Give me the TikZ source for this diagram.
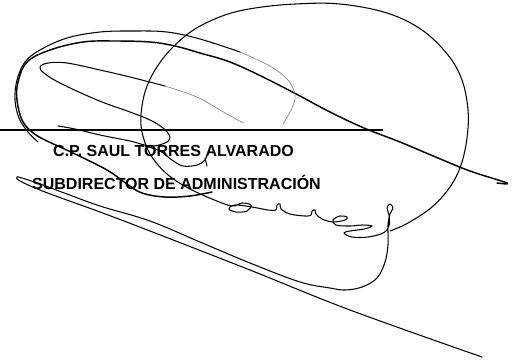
\documentclass[tikz,border=0pt]{standalone}
\usepackage{fontspec}
\setmainfont{Liberation Sans}
\begin{document}
\begin{tikzpicture}[x=1pt,y=-1pt,
  sig/.style={line width=1.45pt, line cap=round, line join=round},
  thin sig/.style={line width=1.05pt, line cap=round, line join=round},
  faint/.style={line width=0.55pt, black!55, line cap=round},
  label/.style={inner sep=0pt, anchor=base west, font=\fontsize{16}{18}\selectfont\bfseries}]
\useasboundingbox (0,0) rectangle (513,360);
% signature line
\coordinate (l0) at (0,130);
\coordinate (l1) at (383,130);
\draw[line width=1.2pt] (l0) -- (l1);
% texts
\node[label] (name) at (53,156) {C.P. SAUL TORRES ALVARADO};
\node[label] (role) at (32,189) {SUBDIRECTOR DE ADMINISTRACIÓN};
% big ellipse + cursive + f loop + bottom swoop + long diagonal
\draw[thin sig] plot[smooth, tension=0.6] coordinates {
 (390,231) (408,223) (432,207) (450,187) (461,165) (467,138) (468,110) (462,80)
 (448,55) (422,30) (387,13) (340,4) (295,4) (255,8) (225,15) (195,29) (172,48)
 (155,70) (145,92) (141,115) (142,132) (148,150) (158,165) (172,178) (190,189)
 (212,199) (232,206) (242,203) (251,205) (247,211) (236,212) (229,209) (235,205)
 (252,207) (268,210) (276,210) (277,205) (280,204) (281,209) (290,214) (305,216)
 (311,215) (312,211) (315,210) (316,214) (322,219) (333,222) (345,220) (347,217)
 (340,216) (333,220) (336,225) (350,226) (362,225) (372,226) (364,229) (350,231)
 (344,233) (352,237) (368,237) (383,233) (389,226) (389,215) (387,208) (390,204)
 (393,208) (390,214) (388,225) (388,245) (385,262) (377,278) (362,287) (345,290)
 (330,288) (300,282) (250,263) (200,242) (150,221) (100,206) (67,194) (40,184)
 (22,178) (17,177) (20,181) (45,192) (100,212) (150,231) (250,270) (350,310) (482,357)};
% long thick diagonal around the outer left loop to the swash under the text
\draw[sig] plot[smooth, tension=0.6] coordinates {
 (497,183) (507,183) (470,171) (438,158) (400,142) (364,128) (330,112) (300,96)
 (263,77) (230,62) (200,53) (175,46) (150,42) (115,41) (83,42) (50,50) (27,62)
 (18,82) (17,100) (22,120) (32,132) (45,140) (73,153) (107,170) (127,184)
 (142,193) (165,197) (190,196) (212,192)};
% upper outer arc
\draw[thin sig] plot[smooth, tension=0.6] coordinates {
 (38,142) (28,132) (19,118) (15,100) (17,80) (25,62) (40,50) (67,38) (100,32)
 (133,31) (167,32) (200,39) (240,52)};
\draw[faint] plot[smooth, tension=0.6] coordinates {
 (240,52) (270,66) (288,80) (295,95) (292,108) (283,124)};
% inner pointed loop with hook
\draw[faint] plot[smooth, tension=0.6] coordinates {
 (243,123) (220,110) (197,97) (165,86)};
\draw[thin sig] plot[smooth, tension=0.6] coordinates {
 (165,86) (130,77) (100,70) (67,63) (48,63) (40,67) (44,73) (60,83) (97,100)
 (130,112) (150,120) (163,128) (170,137) (165,143) (150,146) (130,141)
 (100,135) (75,129) (58,126)};
% small stroke under TORRES
\draw[thin sig] plot[smooth, tension=0.6] coordinates {
 (145,146) (160,151) (172,160) (183,166) (197,165) (205,160) (207,155)};
\draw[thin sig] (205,158) -- (207,166);
\end{tikzpicture}
\end{document}
